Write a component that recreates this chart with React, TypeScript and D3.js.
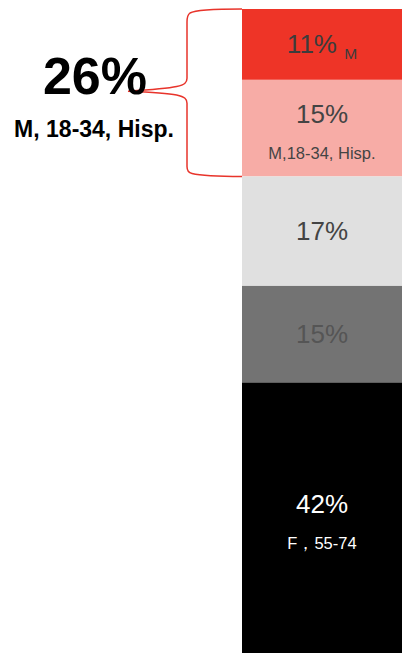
import * as d3 from 'd3'

// segments, top to bottom
const segments = ['M', 'M,18-34, Hisp.', 'other1', 'other2', 'F，55-74']
const shares = [11, 15, 17, 15, 42]
const pctLabels = ['11%', '15%', '17%', '15%', '42%']
const subLabels = ['M', 'M,18-34, Hisp.', '', '', 'F，55-74']

// callout on the left, covers the first two segments
const calloutValue = '26%'
const calloutLabel = 'M, 18-34, Hisp.'
const calloutSpan = 2

const fills = ['#EE3427', '#F7ACA6', '#E0E0E0', '#737373', '#000000']
const textColors = ['#3c3c3c', '#444444', '#444444', '#555555', '#ffffff']

const W = 402
const H = 653
const FONT = 'Liberation Sans, Arial, Helvetica, sans-serif'

const App = () => {
    const ends = Array.from(d3.cumsum(shares))
    const starts = ends.map((e, i) => e - shares[i])

    const y = d3.scaleLinear()
        .domain([0, d3.sum(shares)])
        .range([9, H])

    const x = d3.scaleBand()
        .domain(['share'])
        .range([242, W])
        .padding(0)

    const bx = x('share') as number
    const bw = x.bandwidth()
    const cx = bx + bw / 2

    // brace geometry
    const yTop = y(0)
    const yBot = y(ends[calloutSpan - 1])
    const yTip = (yTop + yBot) / 2 - 1.5
    const vx = bx - 55 // vertical stroke of the brace
    const tipX = bx - 114

    const brace = d3.path()
    brace.moveTo(bx, yTop)
    brace.bezierCurveTo(bx - 30, yTop, vx + 8, yTop + 1, vx + 3, yTop + 4)
    brace.quadraticCurveTo(vx, yTop + 6, vx, yTop + 13)
    brace.lineTo(vx, yTip - 13)
    brace.bezierCurveTo(vx, yTip - 5, vx - 8, yTip - 3, tipX, yTip)
    brace.bezierCurveTo(vx - 8, yTip + 2, vx, yTip + 4, vx, yTip + 12)
    brace.lineTo(vx, yBot - 10)
    brace.quadraticCurveTo(vx, yBot - 4, vx + 5, yBot - 3)
    brace.bezierCurveTo(vx + 13, yBot - 1, bx - 25, yBot, bx, yBot)

    return (
        <svg
            width={W}
            height={H}
            style={{ position: 'absolute', left: 0, top: 0 }}
            fontFamily={FONT}
        >
            {/* stacked column */}
            {segments.map((s, i) => (
                <rect
                    key={s}
                    x={bx}
                    y={y(starts[i])}
                    width={bw}
                    height={y(ends[i]) - y(starts[i])}
                    fill={fills[i]}
                />
            ))}

            {/* labels inside the column */}
            {segments.map((s, i) => {
                const mid = (y(starts[i]) + y(ends[i])) / 2
                const sub = subLabels[i]
                if (i === 0) {
                    return (
                        <text key={s} x={cx} y={mid + 8.5} textAnchor='middle' fill={textColors[i]} fontSize={26}>
                            {pctLabels[i] + ' '}
                            <tspan fontSize={15.5} dy={6}>{sub}</tspan>
                        </text>
                    )
                }
                return (
                    <g key={s} fill={textColors[i]} textAnchor='middle'>
                        <text x={cx} y={sub ? mid - 5 : mid + 9} fontSize={26}>{pctLabels[i]}</text>
                        {sub && <text x={cx} y={mid + 31} fontSize={16.5}>{sub}</text>}
                    </g>
                )
            })}

            {/* brace */}
            <path d={brace.toString()} fill='none' stroke='#E8342B' strokeWidth={1.5} />

            {/* callout */}
            <text x={95} y={94} textAnchor='middle' fontSize={52} fontWeight='bold' fill='#000'>{calloutValue}</text>
            <text x={94} y={137} textAnchor='middle' fontSize={23} fontWeight='bold' fill='#000'>{calloutLabel}</text>
        </svg>
    )
}

export default App
